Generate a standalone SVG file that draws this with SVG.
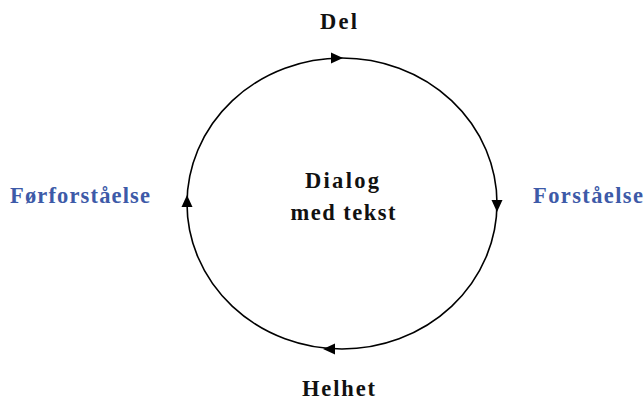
<svg xmlns="http://www.w3.org/2000/svg" width="644" height="400" viewBox="0 0 644 400">
<style>
.t{font-family:"Liberation Serif","Times New Roman",serif;font-weight:bold;font-size:22.5px;fill:#111}
.b{fill:#3D5AA8}
.c{fill:none;stroke:#000;stroke-width:1.6}
.a{fill:#000}
</style>
<rect width="644" height="400" fill="#fff"/>
<g id="connectors">
<ellipse class="c" cx="342" cy="203.5" rx="155" ry="145.5"/>
<polygon class="a" points="343,58 331,52.5 331,63.5"/>
<polygon class="a" points="497,212 491.5,200 502.5,200"/>
<polygon class="a" points="323,349 335,343.5 335,354.5"/>
<polygon class="a" points="187,195 181.5,207 192.5,207"/>
</g>
<g id="del"><text class="t" x="338.5" y="29" text-anchor="middle" textLength="37">Del</text></g>
<g id="helhet"><text class="t" x="338.5" y="396" text-anchor="middle" textLength="73">Helhet</text></g>
<g id="forforstaelse"><text class="t b" x="10" y="203" textLength="140">Førforståelse</text></g>
<g id="forstaelse"><text class="t b" x="533" y="203" textLength="110">Forståelse</text></g>
<g id="dialog"><text class="t" x="342" y="188" text-anchor="middle" textLength="74">Dialog</text><text class="t" x="343" y="220" text-anchor="middle" textLength="105">med tekst</text></g>
</svg>
